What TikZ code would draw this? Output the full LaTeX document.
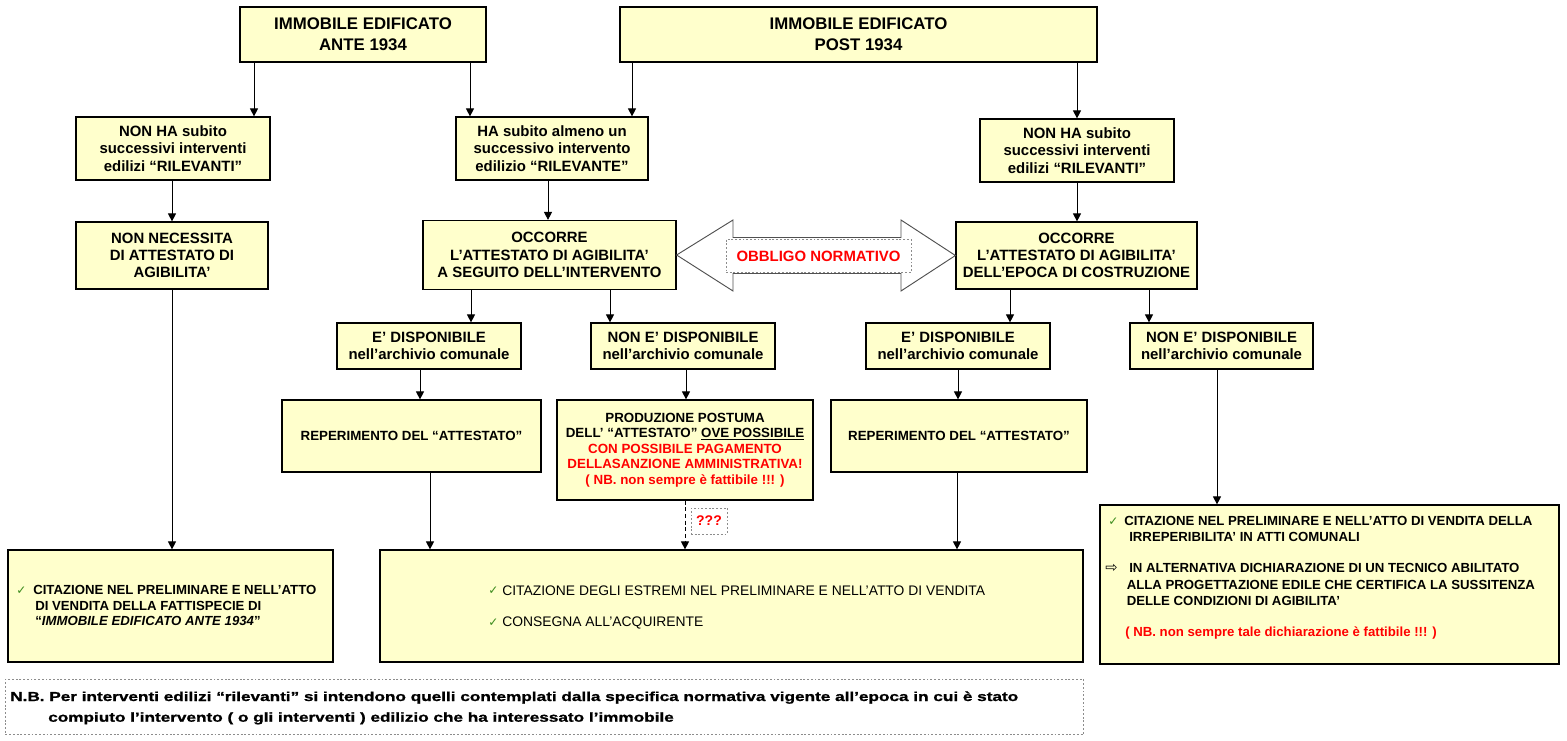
\documentclass[tikz,border=0pt]{standalone}
\usepackage{fontspec}
\setmainfont{Liberation Sans}
\newfontfamily\symfont{DejaVu Sans}
\newfontfamily\widefont[FakeStretch=1.32,FakeBold=1.2]{Liberation Sans}
\usetikzlibrary{arrows.meta,calc}
\definecolor{boxfill}{HTML}{FFFFCC}
\definecolor{chkgreen}{HTML}{3C8C1E}
\definecolor{dotgray}{HTML}{8C8C8C}
\definecolor{arrgray}{HTML}{505050}
\begin{document}
\begin{tikzpicture}[x=0.75pt,y=-0.75pt,
  box/.style={draw=black,line width=0.9pt,fill=boxfill,inner sep=0pt,align=center},
  sz/.style 2 args={minimum width=#1*0.75pt,minimum height=#2*0.75pt},
  fH/.style={font=\fontsize{12.6}{15.75}\selectfont\bfseries},
  fM/.style={font=\fontsize{11.2}{12.9}\selectfont\bfseries},
  fS/.style={font=\fontsize{10}{11.7}\selectfont\bfseries},
  txtline/.style={anchor=base west,inner sep=0pt,font=\fontsize{9.9}{11}\selectfont\bfseries},
  regline/.style={anchor=base west,inner sep=0pt,font=\fontsize{10.4}{12}\selectfont},
  chk/.style={anchor=base west,inner sep=0pt,text=chkgreen,font=\symfont\fontsize{9}{9}\selectfont\bfseries},
  arr/.style={-{Triangle[length=6pt,width=6pt]},line width=0.7pt},
  dotbox/.style={draw=dotgray,line width=0.7pt,dash pattern=on 1.4pt off 1.4pt},
]
\useasboundingbox (0,0) rectangle (1567,740);

% ---------- boxes ----------
\node[box,fH,sz={246}{55}] (top1) at (363,34.5) {IMMOBILE EDIFICATO\\ANTE 1934};
\node[box,fH,sz={477}{55}] (top2) at (858.5,34.5) {IMMOBILE EDIFICATO\\POST 1934};

\node[box,fM,sz={194}{63}] (a1) at (173,148.5) {NON HA subito\\successivi interventi\\edilizi “RILEVANTI”};
\node[box,fM,sz={192}{63}] (b1) at (552,148.5) {HA subito almeno un\\successivo intervento\\edilizio “RILEVANTE”};
\node[box,fM,sz={194}{63}] (c1) at (1077,150.5) {NON HA subito\\successivi interventi\\edilizi “RILEVANTI”};

\node[box,fM,sz={192}{67}] (a2) at (172,255.5) {NON NECESSITA\\DI ATTESTATO DI\\AGIBILITA’};
\node[box,fM,sz={253}{69}] (b2) at (549.5,255) {OCCORRE\\L’ATTESTATO DI AGIBILITA’\\A SEGUITO DELL’INTERVENTO};
\node[box,fM,sz={241}{67}] (c2) at (1076.5,255.5) {OCCORRE\\L’ATTESTATO DI AGIBILITA’\\DELL’EPOCA DI COSTRUZIONE};

\node[box,fM,sz={184}{46}] (b3a) at (429,346) {E’ DISPONIBILE\\nell’archivio comunale};
\node[box,fM,sz={184}{46}] (b3b) at (683,346) {NON E’ DISPONIBILE\\nell’archivio comunale};
\node[box,fM,sz={184}{46}] (c3a) at (958,346) {E’ DISPONIBILE\\nell’archivio comunale};
\node[box,fM,sz={183}{46}] (c3b) at (1221.5,346) {NON E’ DISPONIBILE\\nell’archivio comunale};

\node[box,fS,sz={259}{72}] (b4a) at (411.5,436) {REPERIMENTO DEL “ATTESTATO”};
\node[box,fS,sz={256}{100}] (b4b) at (685,450) {PRODUZIONE POSTUMA\\DELL’ “ATTESTATO” \underline{OVE POSSIBILE}\\\textcolor{red}{CON POSSIBILE PAGAMENTO}\\\textcolor{red}{DELLASANZIONE AMMINISTRATIVA!}\\\textcolor{red}{( NB. non sempre è fattibile !!! )}};
\node[box,fS,sz={256}{72}] (c4a) at (959,436) {REPERIMENTO DEL “ATTESTATO”};

\node[box,sz={325}{112}] (a5) at (170.5,606) {};
\node[box,sz={703}{112}] (b5) at (731.5,606) {};
\node[box,sz={459}{159}] (c5) at (1329.5,584.5) {};

% ---------- double arrow ----------
\draw[draw=arrgray,line width=0.7pt,fill=white,line join=miter]
  (b2.east) -- (733,220) -- (733,237.5) -- (901,237.5) -- (901,220) -- (c2.west)
  -- (901,291) -- (901,273.5) -- (733,273.5) -- (733,291) -- cycle;
\node[dotbox,fill=white,sz={185}{33},inner sep=0pt,text=red,font=\fontsize{11.2}{12}\selectfont\bfseries] (obb) at (818.5,256) {OBBLIGO NORMATIVO};

% ---------- connectors ----------
\draw[arr] (254,0 |- top1.south) -- (254,0 |- a1.north);
\draw[arr] (470,0 |- top1.south) -- (470,0 |- b1.north);
\draw[arr] (632,0 |- top2.south) -- (632,0 |- b1.north);
\draw[arr] (1077,0 |- top2.south) -- (1077,0 |- c1.north);
\draw[arr] (172,0 |- a1.south) -- (172,0 |- a2.north);
\draw[arr] (548,0 |- b1.south) -- (548,0 |- b2.north);
\draw[arr] (1077,0 |- c1.south) -- (1077,0 |- c2.north);
\draw[arr] (172,0 |- a2.south) -- (172,0 |- a5.north);
\draw[arr] (471,0 |- b2.south) -- (471,0 |- b3a.north);
\draw[arr] (610,0 |- b2.south) -- (610,0 |- b3b.north);
\draw[arr] (1010,0 |- c2.south) -- (1010,0 |- c3a.north);
\draw[arr] (1149,0 |- c2.south) -- (1149,0 |- c3b.north);
\draw[arr] (420,0 |- b3a.south) -- (420,0 |- b4a.north);
\draw[arr] (686,0 |- b3b.south) -- (686,0 |- b4b.north);
\draw[arr] (958,0 |- c3a.south) -- (958,0 |- c4a.north);
\draw[arr] (1217,0 |- c3b.south) -- (1217,0 |- c5.north);
\draw[arr] (430,0 |- b4a.south) -- (430,0 |- b5.north);
\draw[arr,dash pattern=on 3pt off 2pt] (685,0 |- b4b.south) -- (685,0 |- b5.north);
\draw[arr] (957,0 |- c4a.south) -- (957,0 |- b5.north);
\node[dotbox,sz={36}{26},inner sep=0pt,text=red,font=\fontsize{10.5}{11}\selectfont\bfseries] (qqq) at (709,521) {???};

% ---------- A5 text ----------
\node[chk] (a5c) at (16,594) {✓};
\node[txtline] (a5l1) at (33,594.7) {CITAZIONE NEL PRELIMINARE E NELL’ATTO};
\node[txtline] (a5l2) at (35,610.3) {DI VENDITA DELLA FATTISPECIE DI};
\node[txtline] (a5l3) at (35,625.7) {“\textit{IMMOBILE EDIFICATO ANTE 1934}”};

% ---------- B5 text ----------
\node[chk] (b5c1) at (488,594.5) {✓};
\node[regline] (b5l1) at (502,595) {CITAZIONE DEGLI ESTREMI NEL PRELIMINARE E NELL’ATTO DI VENDITA};
\node[chk] (b5c2) at (488,626) {✓};
\node[regline] (b5l2) at (502,626.5) {CONSEGNA ALL’ACQUIRENTE};

% ---------- C5 text ----------
\node[chk] (c5c) at (1108,525) {✓};
\node[txtline] (c5l1) at (1124,525.7) {CITAZIONE NEL PRELIMINARE E NELL’ATTO DI VENDITA DELLA};
\node[txtline] (c5l2) at (1129,541.4) {IRREPERIBILITA’ IN ATTI COMUNALI};
\node[anchor=base west,inner sep=0pt,font=\symfont\fontsize{11}{11}\selectfont] (c5a) at (1105,572.8) {⇨};
\node[txtline] (c5l3) at (1129,572.4) {IN ALTERNATIVA DICHIARAZIONE DI UN TECNICO ABILITATO};
\node[txtline] (c5l4) at (1126.5,589.7) {ALLA PROGETTAZIONE EDILE CHE CERTIFICA LA SUSSITENZA};
\node[txtline] (c5l5) at (1126.5,605.7) {DELLE CONDIZIONI DI AGIBILITA’};
\node[txtline,text=red] (c5l6) at (1125,636) {( NB. non sempre tale dichiarazione è fattibile !!! )};

% ---------- N.B. ----------
\node[dotbox,anchor=north west,inner sep=0pt,minimum width=1078*0.75pt,minimum height=55*0.75pt] (nb) at (5,679) {};
\node[anchor=base west,inner sep=0pt,font=\widefont\fontsize{9.75}{11}\selectfont\bfseries] (nb1) at (10,701) {N.B. Per interventi edilizi “rilevanti” si intendono quelli contemplati dalla specifica normativa vigente all’epoca in cui è stato};
\node[anchor=base west,inner sep=0pt,font=\widefont\fontsize{9.75}{11}\selectfont\bfseries] (nb2) at (48,721.7) {compiuto l’intervento ( o gli interventi ) edilizio che ha interessato l’immobile};
\end{tikzpicture}
\end{document}
